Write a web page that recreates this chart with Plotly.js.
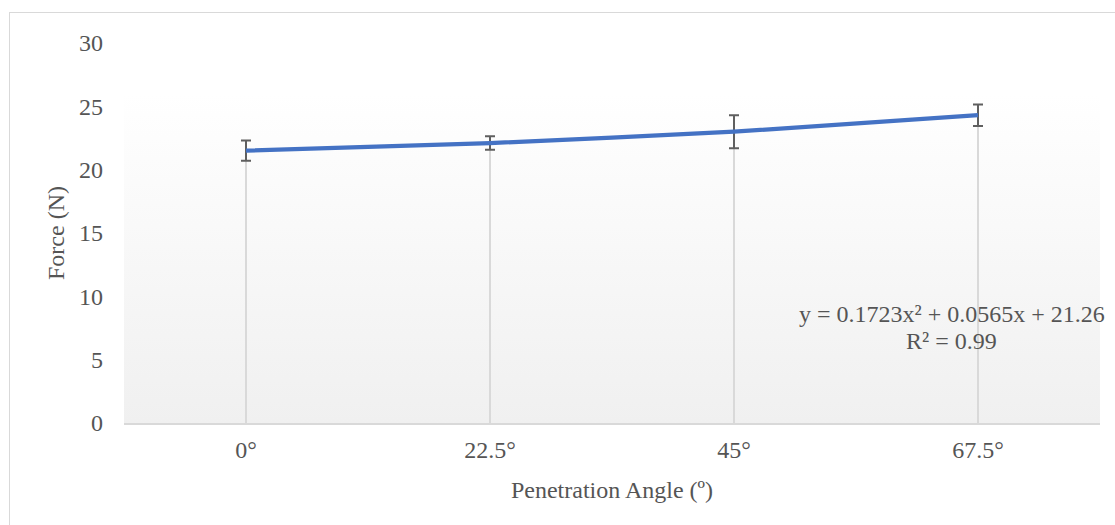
<!DOCTYPE html>
<html>
<head>
<meta charset="utf-8">
<script src="https://cdn.plot.ly/plotly-3.0.1.min.js"></script>
<style>
  html, body { margin: 0; padding: 0; background: #ffffff; overflow: hidden; }
  #wrap { position: relative; width: 1115px; height: 525px; }
  #chart { position: absolute; left: 0; top: 0; width: 1115px; height: 525px; }
  #frame { position: absolute; left: 9px; top: 12px; width: 1120px; height: 540px;
           border: 1.5px solid #d9d9d9; pointer-events: none; box-sizing: border-box; }
</style>
</head>
<body>
<div id="wrap">
  <div id="chart"></div>
  <div id="frame"></div>
</div>
<script>
// Data
const angles = ["0°", "22.5°", "45°", "67.5°"];
const force = [21.5, 22.1, 23.0, 24.3];
const forceErr = [0.8, 0.53, 1.3, 0.85];
const yTicks = [0, 5, 10, 15, 20, 25, 30];
const trendEquation = "y = 0.1723x² + 0.0565x + 21.26";
const trendR2 = "R² = 0.99";

const textColor = "#555555";
const fontFamily = "'Liberation Serif', 'Times New Roman', serif";

const gradSvg = '<svg xmlns="http://www.w3.org/2000/svg" width="100" height="100" preserveAspectRatio="none">' +
  '<defs><linearGradient id="g" x1="0" y1="0" x2="0" y2="1">' +
  '<stop offset="0" stop-color="#ffffff"/><stop offset="1" stop-color="#f0f0f0"/>' +
  '</linearGradient></defs><rect width="100" height="100" fill="url(#g)"/></svg>';
const gradUri = "data:image/svg+xml;base64," + btoa(gradSvg);

const dropLines = {
  x: angles, y: force, type: "scatter", mode: "markers",
  marker: { size: 1, color: "rgba(0,0,0,0)" },
  error_y: { type: "data", symmetric: false, array: force.map(() => 0), arrayminus: force,
             color: "#d9d9d9", thickness: 2, width: 0 },
  hoverinfo: "skip", showlegend: false
};

const mainLine = {
  x: angles, y: force, type: "scatter", mode: "lines",
  line: { color: "#4472C4", width: 4.2, shape: "spline", smoothing: 0.6 },
  error_y: { type: "data", array: forceErr, visible: true, color: "#5f5f5f", thickness: 2, width: 5 },
  showlegend: false
};

const layout = {
  width: 1115, height: 525,
  margin: { l: 124, r: 15, t: 43, b: 102 },
  paper_bgcolor: "#ffffff",
  plot_bgcolor: "rgba(0,0,0,0)",
  showlegend: false,
  font: { family: fontFamily, color: textColor, size: 24 },
  xaxis: {
    type: "category", range: [-0.5, 3.5],
    showgrid: false, zeroline: false,
    showline: true, linecolor: "#d9d9d9", linewidth: 2,
    ticks: "", ticklabelstandoff: 4,
    tickfont: { family: fontFamily, color: textColor, size: 24 },
    title: { text: "Penetration Angle (º)", font: { family: fontFamily, color: textColor, size: 24 }, standoff: 19 }
  },
  yaxis: {
    range: [0, 30], tickvals: yTicks, ticktext: yTicks.map(String),
    showgrid: false, zeroline: false, showline: false,
    ticks: "", ticklabelstandoff: 20,
    tickfont: { family: fontFamily, color: textColor, size: 24 },
    title: { text: "Force (N)", font: { family: fontFamily, color: textColor, size: 24 }, standoff: 7 }
  },
  images: [{
    source: gradUri, xref: "paper", yref: "paper",
    x: 0, y: 0.868, sizex: 1, sizey: 0.868,
    sizing: "stretch", xanchor: "left", yanchor: "top", layer: "below"
  }],
  annotations: [
    { text: trendEquation, xref: "paper", yref: "paper", x: 0.848, y: 0.287,
      xanchor: "center", yanchor: "middle", showarrow: false,
      font: { family: fontFamily, color: textColor, size: 24 } },
    { text: trendR2, xref: "paper", yref: "paper", x: 0.848, y: 0.216,
      xanchor: "center", yanchor: "middle", showarrow: false,
      font: { family: fontFamily, color: textColor, size: 24 } }
  ]
};

Plotly.newPlot("chart", [dropLines, mainLine], layout, { displayModeBar: false, staticPlot: true });
</script>
</body>
</html>
